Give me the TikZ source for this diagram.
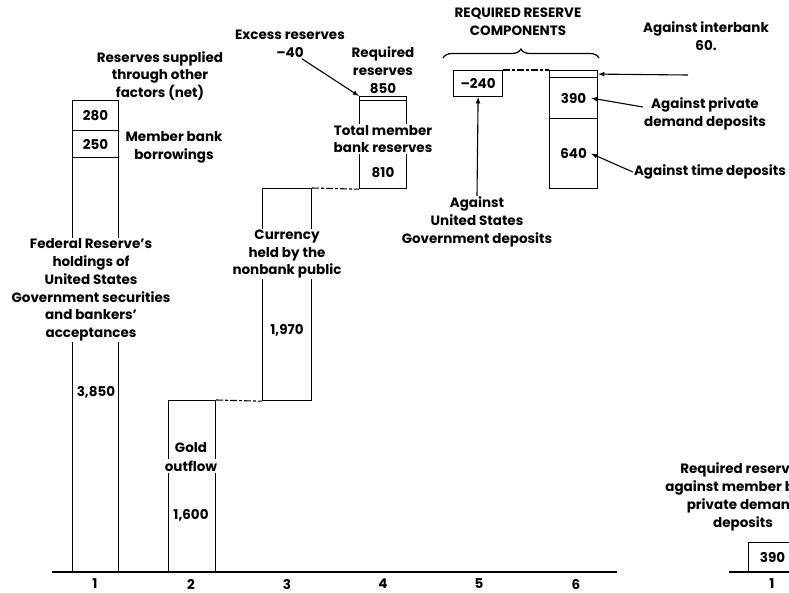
\documentclass[tikz,border=0pt]{standalone}
\usepackage{fontspec}
\setmainfont{Poppins}
\usetikzlibrary{arrows}
\usetikzlibrary{decorations.pathreplacing}

\begin{document}
\begin{tikzpicture}[x=1pt, y=-1pt,
    seg/.style={draw, line width=1.2pt, inner sep=0pt, anchor=north west, font=\bfseries\fontsize{13.5}{15}\selectfont},
    lbl/.style={align=center, inner sep=1pt, font=\bfseries\fontsize{13.5}{17.8}\selectfont},
    gap/.style={lbl, fill=white},
    num/.style={inner sep=0pt, font=\bfseries\fontsize{13.5}{15}\selectfont},
    link/.style={line width=1.1pt, dash pattern=on 7pt off 2pt on 3pt off 2pt},
    pointer/.style={-latex, line width=1.1pt}]
    \useasboundingbox (0,0) rectangle (789,592);
    \clip (0,0) rectangle (789,592);

    % bars
    \node[seg, minimum width=46pt, minimum height=30pt]  (b1a) at (72,100) {280};
    \node[seg, minimum width=46pt, minimum height=27pt]  (b1b) at (72,130) {250};
    \node[seg, minimum width=46pt, minimum height=415pt] (b1c) at (72,157) {};
    \node[seg, minimum width=47pt, minimum height=172pt] (b2)  at (168,400) {};
    \node[seg, minimum width=49pt, minimum height=212pt] (b3)  at (262,188) {};
    \node[seg, minimum width=47pt, minimum height=4pt]   (b4x) at (359,96) {};
    \node[seg, minimum width=47pt, minimum height=88pt]  (b4)  at (359,100) {};
    \node[seg, minimum width=49pt, minimum height=26pt]  (b5)  at (453,70) {--240};
    \node[seg, minimum width=48pt, minimum height=7pt]   (b6x) at (549,70) {};
    \node[seg, minimum width=48pt, minimum height=41pt]  (b6a) at (549,77) {390};
    \node[seg, minimum width=48pt, minimum height=70pt]  (b6b) at (549,118) {640};
    \node[seg, minimum width=48pt, minimum height=30pt]  (r1)  at (748,542) {390};

    % values and labels
    \node[num] (v1) at (96,392) {3,850};
    \node[num] (v2) at (191,515) {1,600};
    \node[num] (v3) at (287,330) {1,970};
    \node[num] (v4) at (383,173) {810};
    \node[gap] (fed) at (91,290) {Federal Reserve's\\holdings of\\United States\\Government securities\\and bankers'\\acceptances};
    \node[num] (gold) at (191,448) {Gold};
    \node[gap, inner ysep=2pt] (outf) at (191,466) {outflow};
    \node[gap] (cur) at (287,254) {Currency\\held by the\\nonbank public};
    \node[gap] (tot) at (383,139) {Total member\\bank reserves};
    \node[lbl] (oth) at (160,76) {Reserves supplied\\through other\\factors (net)};
    \node[lbl] (brw) at (174,147) {Member bank\\borrowings};
    \node[lbl] (exc) at (290,44) {Excess reserves\\--40};
    \node[lbl] (req) at (383,70) {Required\\reserves\\850};
    \node[lbl] (comp) at (518,22) {REQUIRED RESERVE\\COMPONENTS};
    \node[lbl] (gov) at (477,222) {Against\\United States\\Government deposits};
    \node[lbl] (ib) at (706,36) {Against interbank\\60.};
    \node[lbl] (pd) at (705,114) {Against private\\demand deposits};
    \node[lbl] (td) at (710,172) {Against time deposits};
    \node[lbl] (rq) at (743,497) {Required reserves\\against member bank\\private demand\\deposits};

    % axes
    \coordinate (ax0) at (52,572);
    \coordinate (ax1) at (617,572);
    \coordinate (rx0) at (729,572);
    \coordinate (rx1) at (800,572);
    \draw[line width=1.6pt] (ax0) -- (ax1);
    \draw[line width=1.6pt] (rx0) -- (rx1);
    \foreach \i/\x in {1/95, 2/191, 3/287, 4/383, 5/479, 6/576}
        \node[num] (t\i) at (\x,584) {\i};
    \node[num] (t7) at (772,584) {1};

    % brace
    \coordinate (brl) at (443,58);
    \coordinate (brr) at (599,58);
    \draw[line width=1.2pt, decorate, decoration={brace, amplitude=9pt}] (brl) -- (brr);

    % links
    \draw[link] (b2.north east) -- (b3.south west);
    \draw[link] (b3.north east) -- (b4.south west);
    \draw[link] (b5.north east) -- (b6x.north west);
    \coordinate (ibend) at (688,75);
    \draw[pointer] ([xshift=12pt]exc.south) -- (b4x.north west);
    \draw[pointer] (gov.north) -- (b5.south);
    \draw[pointer] (ibend) -- (b6x.east);
    \draw[pointer] ([yshift=7pt]pd.west) -- ([xshift=-7pt]b6a.east);
    \draw[pointer] (td.west) -- ([xshift=-7pt]b6b.east);

\end{tikzpicture}
\end{document}
